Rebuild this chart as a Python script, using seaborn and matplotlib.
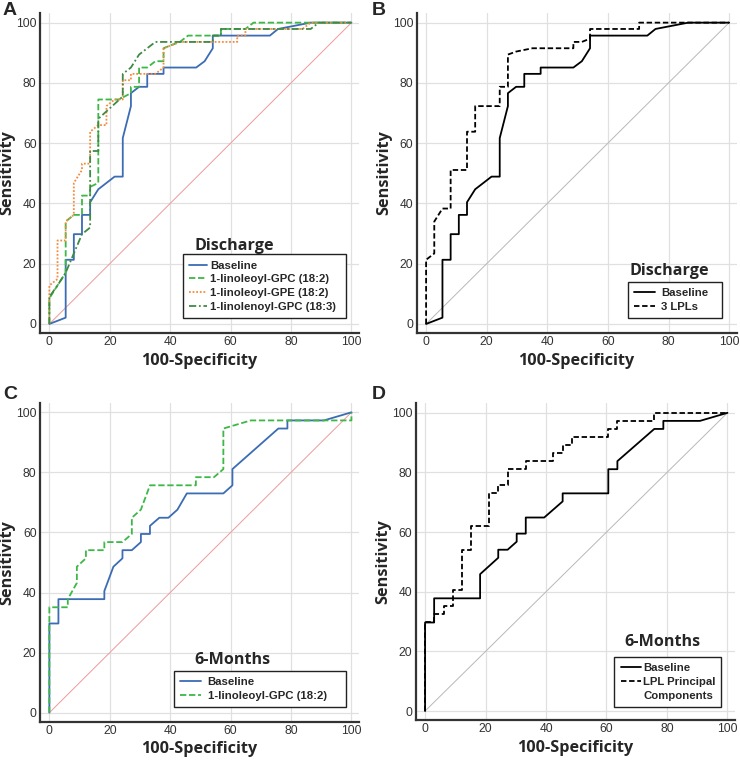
# ROC curves - discharge and 6-month outcomes

import numpy as np
import pandas as pd
import matplotlib
matplotlib.use("Agg")
import matplotlib.pyplot as plt
from matplotlib.lines import Line2D
from matplotlib.ticker import MultipleLocator
import seaborn as sns

# ── Discharge (panels A and B) ──
dis_base_x = [0, 5.4, 5.4, 8.1, 8.1, 10.8, 10.8, 13.5, 13.5, 16.2, 18.9, 21.6, 24.3, 24.3,
              27.0, 27.0, 29.7, 32.4, 32.4, 37.8, 37.8, 48.6, 51.4, 54.1, 54.1, 73.0, 75.7, 86.5, 100]
dis_base_y = [0, 2.1, 21.3, 21.3, 29.8, 29.8, 36.2, 36.2, 40.4, 44.7, 46.8, 48.9, 48.9, 61.7,
              72.3, 76.6, 78.7, 78.7, 83.0, 83.0, 85.1, 85.1, 87.2, 91.5, 95.7, 95.7, 97.9, 100, 100]

gpc_x = [0, 0, 2.7, 5.4, 5.4, 8.1, 10.8, 10.8, 13.5, 13.5, 16.2, 16.2, 23.0, 27.0, 27.0, 29.7,
         29.7, 32.4, 35.1, 37.8, 37.8, 40.5, 43.2, 45.9, 56.8, 56.8, 64.9, 67.6, 100]
gpc_y = [0, 8.5, 12.8, 17.0, 34.0, 36.2, 36.2, 42.6, 42.6, 45.5, 46.8, 74.5, 74.5, 76.6, 78.7, 78.7,
         85.1, 85.1, 87.2, 87.2, 91.5, 92.6, 93.6, 95.7, 95.7, 97.9, 97.9, 100, 100]

gpe_x = [0, 0, 2.7, 2.7, 5.4, 5.4, 8.1, 8.1, 10.8, 10.8, 13.5, 13.5, 16.2, 18.9, 18.9, 21.6,
         24.3, 24.3, 27.0, 27.0, 35.1, 37.8, 37.8, 43.2, 62.2, 62.2, 64.9, 64.9, 83.8, 86.5, 100]
gpe_y = [0, 12.8, 14.9, 27.7, 27.7, 34.0, 36.2, 46.8, 51.1, 53.2, 53.2, 63.8, 66.0, 66.0, 72.3, 74.5,
         74.5, 80.9, 80.9, 83.0, 83.0, 85.1, 91.5, 93.6, 93.6, 95.7, 95.7, 97.9, 97.9, 100, 100]

lnn_x = [0, 0, 2.7, 5.4, 8.1, 10.8, 13.5, 13.5, 16.2, 16.2, 24.3, 24.3, 27.0, 29.7, 32.4,
         35.1, 54.1, 54.1, 56.8, 56.8, 86.5, 89.2, 100]
lnn_y = [0, 9.0, 12.8, 17.0, 23.4, 29.8, 32.0, 57.4, 57.4, 68.1, 75.5, 83.0, 85.1, 89.4, 91.5,
         93.6, 93.6, 95.7, 95.7, 97.9, 97.9, 100, 100]

lpl3_x = [0, 0, 2.7, 2.7, 5.4, 8.1, 8.1, 13.5, 13.5, 16.2, 16.2, 24.3, 24.3, 27.0, 27.0, 29.7,
          35.1, 48.6, 48.6, 51.4, 54.1, 54.1, 70.3, 70.3, 100]
lpl3_y = [0, 21.3, 23.4, 34.0, 38.3, 38.3, 51.1, 51.1, 63.8, 63.8, 72.3, 72.3, 78.7, 78.7, 89.4, 90.4,
          91.5, 91.5, 93.6, 93.6, 94.7, 97.9, 97.9, 100, 100]

# ── 6 months (panels C and D) ──
c_base_x = [0, 0, 3.0, 3.0, 18.2, 18.2, 21.2, 24.2, 24.2, 27.3, 30.3, 30.3, 33.3, 33.3, 36.4,
            39.4, 42.4, 45.5, 57.6, 60.6, 60.6, 75.8, 78.8, 78.8, 90.9, 100]
c_base_y = [0, 29.7, 29.7, 37.8, 37.8, 40.5, 48.6, 51.4, 54.1, 54.1, 56.8, 59.5, 59.5, 62.2, 64.9,
            64.9, 67.6, 73.0, 73.0, 75.7, 81.1, 94.6, 94.6, 97.3, 97.3, 100]

c_gpc_x = [0, 0, 6.1, 6.1, 9.1, 9.1, 12.1, 12.1, 18.2, 18.2, 24.2, 27.3, 27.3, 30.3, 33.3,
           48.5, 48.5, 54.5, 57.6, 57.6, 66.7, 100, 100]
c_gpc_y = [0, 35.1, 35.1, 37.8, 43.2, 48.6, 51.4, 54.1, 54.1, 56.8, 56.8, 59.5, 64.9, 67.6, 75.7,
           75.7, 78.4, 78.4, 81.1, 94.6, 97.3, 97.3, 100]

d_base_x = [0, 0, 3.0, 3.0, 18.2, 18.2, 24.2, 24.2, 27.3, 30.3, 30.3, 33.3, 33.3, 39.4, 45.5,
            45.5, 60.6, 60.6, 63.6, 63.6, 75.8, 78.8, 78.8, 90.9, 100]
d_base_y = [0, 29.7, 29.7, 37.8, 37.8, 45.9, 51.4, 54.1, 54.1, 56.8, 59.5, 59.5, 64.9, 64.9, 70.3,
            73.0, 73.0, 81.1, 81.1, 83.8, 94.6, 94.6, 97.3, 97.3, 100]

pc_x = [0, 0, 3.0, 3.0, 6.1, 6.1, 9.1, 9.1, 12.1, 12.1, 15.2, 15.2, 21.2, 21.2, 24.2, 24.2, 27.3,
        27.3, 33.3, 33.3, 42.4, 42.4, 45.5, 45.5, 48.5, 48.5, 60.6, 60.6, 63.6, 63.6, 75.8, 75.8, 100]
pc_y = [0, 29.7, 29.7, 32.4, 32.4, 35.1, 35.1, 40.5, 40.5, 54.1, 54.1, 62.2, 62.2, 73.0, 73.0, 75.7,
        75.7, 81.1, 81.1, 83.8, 83.8, 86.5, 86.5, 89.2, 89.2, 91.9, 91.9, 94.6, 94.6, 97.3, 97.3, 100, 100]

diag = [0, 100]

BLUE = "#3b6cb4"
LGREEN = "#3db846"
DGREEN = "#3f8a45"
ORANGE = "#f58b3f"
PINK = "#ee9a9a"

sns.set_style("white")
plt.rcParams["font.family"] = ["Liberation Sans", "DejaVu Sans"]

fig = plt.figure(figsize=(7.4, 7.63), dpi=100)
W, H = 740.0, 763.0
BOLD_FAM = ["Open Sans", "DejaVu Sans"]


def make_ax(left, top, right, bottom):
    return fig.add_axes([left / W, 1 - bottom / H, (right - left) / W, (bottom - top) / H])


def style_ax(ax, width_px):
    ax.set_xlim(-3.1, 102.5)
    ax.set_ylim(-3.0, 103.2)
    ax.xaxis.set_major_locator(MultipleLocator(20))
    ax.yaxis.set_major_locator(MultipleLocator(20))
    ax.xaxis.set_minor_locator(MultipleLocator(5))
    ax.yaxis.set_minor_locator(MultipleLocator(5))
    ax.grid(True, which="major", color="#e0e0e0", lw=0.9)
    ax.set_axisbelow(True)
    for s in ["top", "right"]:
        ax.spines[s].set_visible(False)
    for s in ["left", "bottom"]:
        ax.spines[s].set_color("#333333")
        ax.spines[s].set_linewidth(1.6)
    ax.tick_params(which="major", direction="in", length=6, width=1.0, color="#555555",
                   labelsize=8.7, labelcolor="#333333", pad=2.5)
    ax.tick_params(which="minor", direction="in", length=3, width=0.8, color="#777777")
    ax.set_xlabel("100-Specificity", family=BOLD_FAM, fontweight="bold",
                  fontsize=11.7, labelpad=3)
    ax.set_ylabel("Sensitivity", family=BOLD_FAM, fontweight="bold", fontsize=11.7)
    # label's right edge sits ~24 px left of the spine
    ax.yaxis.set_label_coords(-24.5 / width_px, 0.5)


def line(ax, x, y, color, ls, lw=1.3, label=None):
    df = pd.DataFrame({"x": x, "y": y})
    sns.lineplot(data=df, x="x", y="y", sort=False, estimator=None, color=color,
                 linestyle=ls, lw=lw, label=label, ax=ax)


def legend(ax, box, title, title_xy, hl=1.6, tp=0.25, extra=None):
    handles, labels = ax.get_legend_handles_labels()
    if extra:
        handles.append(Line2D([], [], color="none"))
        labels.append(extra)
    leg = ax.legend(handles, labels, loc="lower left", bbox_to_anchor=box, mode="expand",
                    frameon=True, fancybox=False, edgecolor="#222222", framealpha=1,
                    borderaxespad=0, prop={"weight": "bold", "size": 8.2}, handlelength=hl,
                    handletextpad=tp, labelspacing=0.32, borderpad=0.55)
    leg.get_frame().set_linewidth(1.0)
    ax.text(title_xy[0], title_xy[1], title, transform=ax.transAxes, ha="left", va="bottom",
            family=BOLD_FAM, fontweight="bold", fontsize=11.6)


DASH = (0, (3.5, 1.5))
DOT = (0, (1, 1))
DASHDOT = (0, (4, 1.5, 1, 1.5))

# ── A ──
ax = make_ax(40, 13, 359, 333)
line(ax, diag, diag, PINK, "-", lw=0.7)
line(ax, dis_base_x, dis_base_y, BLUE, "-", label="Baseline")
line(ax, gpc_x, gpc_y, LGREEN, DASH, label="1-linoleoyl-GPC (18:2)")
line(ax, gpe_x, gpe_y, ORANGE, DOT, label="1-linoleoyl-GPE (18:2)")
line(ax, lnn_x, lnn_y, DGREEN, DASHDOT, label="1-linolenoyl-GPC (18:3)")
style_ax(ax, 319)
legend(ax, (0.448, 0.047, 0.511, 0.19), "Discharge", (0.484, 0.248))

# ── B ──
ax = make_ax(416.7, 13, 736.7, 333)
line(ax, diag, diag, "#b8b8b8", "-", lw=0.7)
line(ax, dis_base_x, dis_base_y, "black", "-", label="Baseline")
line(ax, lpl3_x, lpl3_y, "black", (0, (3, 1.5)), label="3 LPLs")
style_ax(ax, 320)
legend(ax, (0.66, 0.047, 0.294, 0.11), "Discharge", (0.666, 0.168), hl=1.8, tp=0.6)

# ── C ──
ax = make_ax(40, 402.7, 359, 721.7)
line(ax, diag, diag, PINK, "-", lw=0.7)
line(ax, c_base_x, c_base_y, BLUE, "-", label="Baseline")
line(ax, c_gpc_x, c_gpc_y, LGREEN, DASH, label="1-linoleoyl-GPC (18:2)")
style_ax(ax, 319)
legend(ax, (0.42, 0.046, 0.539, 0.115), "6-Months", (0.484, 0.168), hl=1.8, tp=0.6)

# ── D ──
ax = make_ax(415.7, 403.3, 735, 720)
line(ax, diag, diag, "#b8b8b8", "-", lw=0.7)
line(ax, d_base_x, d_base_y, "black", "-", label="Baseline")
line(ax, pc_x, pc_y, "black", (0, (3, 1.5)), label="LPL Principal")
style_ax(ax, 319.3)
legend(ax, (0.622, 0.041, 0.334, 0.175), "6-Months", (0.652, 0.222), hl=1.8, tp=0.2,
       extra="Components")

for lab, x, y in [("A", 3, 2), ("B", 372, 2), ("C", 3, 386), ("D", 372, 386)]:
    fig.text(x / W, 1 - y / H, lab, ha="left", va="top", fontsize=14, fontweight="bold")

fig.savefig("out.png", dpi=100)
